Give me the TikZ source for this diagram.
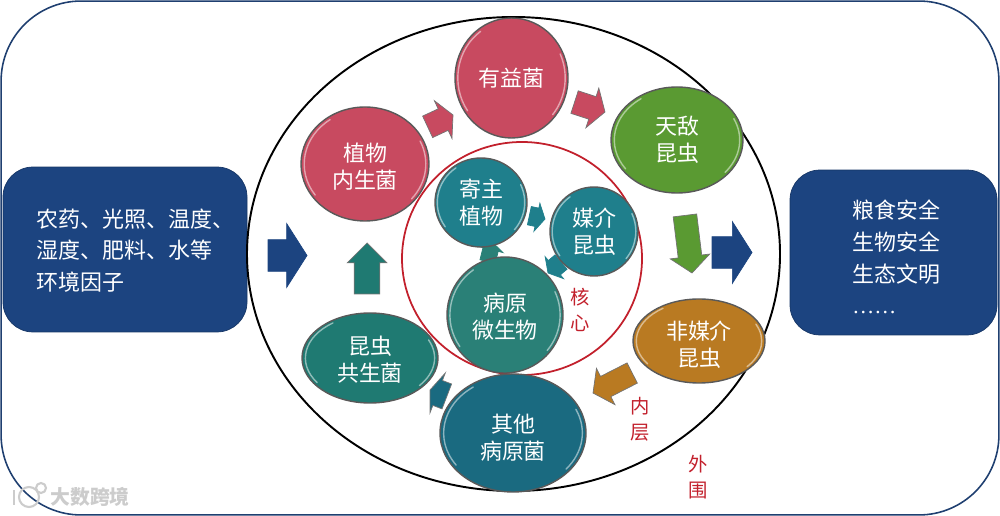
\documentclass[tikz,border=0pt]{standalone}
\usepackage{fontspec}
\usepackage{xcolor}
\usepackage{tikz}
\usetikzlibrary{calc,shapes.geometric,shapes.arrows}
\setmainfont{Noto Sans CJK SC}
\newfontfamily\dotsfont{Liberation Serif}
\definecolor{navy}{HTML}{1C4480}
\definecolor{framec}{HTML}{1F3F70}
\definecolor{rose}{HTML}{C84A60}
\definecolor{leaf}{HTML}{5A9A32}
\definecolor{amber}{HTML}{B97A22}
\definecolor{tealA}{HTML}{1F7F8C}
\definecolor{tealB}{HTML}{2A8077}
\definecolor{tealC}{HTML}{1F7A72}
\definecolor{tealD}{HTML}{1A6A80}
\definecolor{ringred}{HTML}{C2202C}
\newcommand{\body}{\fontsize{12.5}{15.3}\selectfont}
\newcommand{\drop}[1]{\rule{0pt}{#1pt}}
\begin{document}
\begin{tikzpicture}[x=0.02cm,y=-0.02cm,
    panel/.style={rectangle,fill=navy,draw=navy!80!black,rounded corners=0.6cm,minimum width=#1*0.02cm,minimum height=3.3cm},
    paneltext/.style={anchor=west,align=left,text=white,font=\fontsize{12.5}{18.1}\selectfont,inner sep=0pt},
    ring/.style n args={3}{ellipse,draw=#3,inner sep=0pt,minimum width=#1*0.02cm,minimum height=#2*0.02cm},
    bubble/.style n args={3}{ellipse,draw=black!65,thick,fill=#3,inner sep=0pt,align=center,text=white,font=\body,
      minimum width=#1*0.02cm,minimum height=#2*0.02cm,
      path picture={
        \draw[white,opacity=.5,line width=.8pt,line cap=round]
          let \p1=(path picture bounding box.north east),\p2=(path picture bounding box.center),
          \n1={(\x1-\x2)*.95},\n2={(\y1-\y2)*.95} in
          (path picture bounding box.center) ++(125:\n1 and \n2) arc[start angle=125,end angle=215,x radius=\n1,y radius=\n2]
          (path picture bounding box.center) ++(-40:\n1 and \n2) arc[start angle=-40,end angle=25,x radius=\n1,y radius=\n2];}},
    flow/.style n args={5}{single arrow,draw=black!55,fill=#5,inner xsep=0pt,inner ysep=(#2-2*#3)*0.01cm,outer sep=0pt,anchor=tip,
      minimum height=#1*0.02cm,minimum width=#2*0.02cm,single arrow head extend=#3*0.02cm,single arrow tip angle=#4},
    tag/.style={text=ringred,align=center,inner sep=0pt,font=\fontsize{11}{14.8}\selectfont}]
  \useasboundingbox (0,0) rectangle (1000,516);
  % frame and side panels
  \node[rectangle,draw=framec,line width=0.9pt,rounded corners=1.6cm,minimum width=19.96cm,minimum height=10.28cm] (frame) at (500,258) {};
  \node[panel=244] (factors) at (125,249.5) {};
  \node[paneltext] (factorstext) at (36,250.5) {农药、光照、温度、\\湿度、肥料、水等\\环境因子};
  \node[panel=207] (goals) at (893.5,252.5) {};
  \node[paneltext] (goalstext) at (852,257) {粮食安全\\生物安全\\生态文明\\{\dotsfont ……}};
  % layers
  \node[ring={533}{474}{black},line width=1.1pt] (outer) at (513.5,254) {};
  \node[ring={240}{233}{ringred},line width=1pt] (core) at (522,258.5) {};
  % flow arrows
  \node[flow={39}{63}{16}{115}{navy},draw=navy] (inflow) at (307,255.5) {};
  \node[flow={40}{61}{15}{115}{navy},draw=navy] (outflow) at (752,252.5) {};
  \node[flow={28}{41}{9}{125}{rose},rotate=25] (arrowa) at (453,115) {};
  \node[flow={32}{41}{9}{115}{rose},rotate=-18] (arrowb) at (605,112) {};
  \node[flow={58}{39}{8}{100}{leaf},rotate=-83] (arrowc) at (692,273) {};
  \node[flow={44}{40}{9}{110}{amber},rotate=207] (arrowd) at (593,393) {};
  \node[flow={18}{42}{8}{138}{tealD},rotate=159] (arrowe) at (430,390) {};
  \node[flow={51}{39}{7}{90}{tealC},rotate=90] (arrowf) at (367,243) {};
  \node[flow={16}{28}{5}{120}{tealA},draw=tealA,rotate=-12] (arrowg) at (545,219) {};
  \node[flow={17}{28}{5}{120}{tealA},draw=tealA,rotate=220] (arrowh) at (548,273) {};
  \node[flow={20}{25}{5}{120}{tealB},draw=tealB,rotate=76] (arrowi) at (492.4,242.3) {};
  % outer ring members
  \node[bubble={113}{120}{rose}] (beneficial) at (511.5,78) {有益菌};
  \node[bubble={128}{114}{rose}] (endophyte) at (365,164) {\drop{14}植物\\内生菌};
  \node[bubble={132}{106}{leaf}] (enemy) at (677,140) {天敌\\昆虫};
  \node[bubble={132}{84}{amber}] (nonvector) at (699,341) {\drop{14.6}非媒介\\昆虫};
  \node[bubble={146}{118}{tealD}] (otherpath) at (513,433) {\drop{15.6}其他\\病原菌};
  \node[bubble={136}{90}{tealC}] (symbiont) at (370,358) {\drop{12.8}昆虫\\共生菌};
  % core members
  \node[bubble={92}{89}{tealA}] (host) at (481,202.5) {寄主\\植物};
  \node[bubble={88}{89}{tealA}] (vector) at (594,231.5) {媒介\\昆虫};
  \node[bubble={116}{116}{tealB}] (pathogen) at (505,315) {\drop{12.8}病原\\微生物};
  % labels
  \node[tag] (coretag) at (580.5,310) {核\\心};
  \node[tag] (innertag) at (640,419) {内\\层};
  \node[tag] (outertag) at (698,477.5) {外\\围};
  % watermark
  \node[text=black!20,inner sep=0pt,font=\bfseries\fontsize{11.3}{12}\selectfont] (mark) at (90,497) {大数跨境};
  \coordinate (marka) at (14,490);
  \coordinate (markb) at (14,505);
  \draw[black!20,line width=1.2pt] (marka) -- (markb);
  \node[circle,draw=black!20,line width=1.2pt,minimum size=0.2cm,inner sep=0pt] (markc) at (41,488) {};
  \node[circle,draw=black!20,line width=1.2pt,minimum size=0.4cm,inner sep=0pt] (markd) at (29,497) {};
\end{tikzpicture}
\end{document}
